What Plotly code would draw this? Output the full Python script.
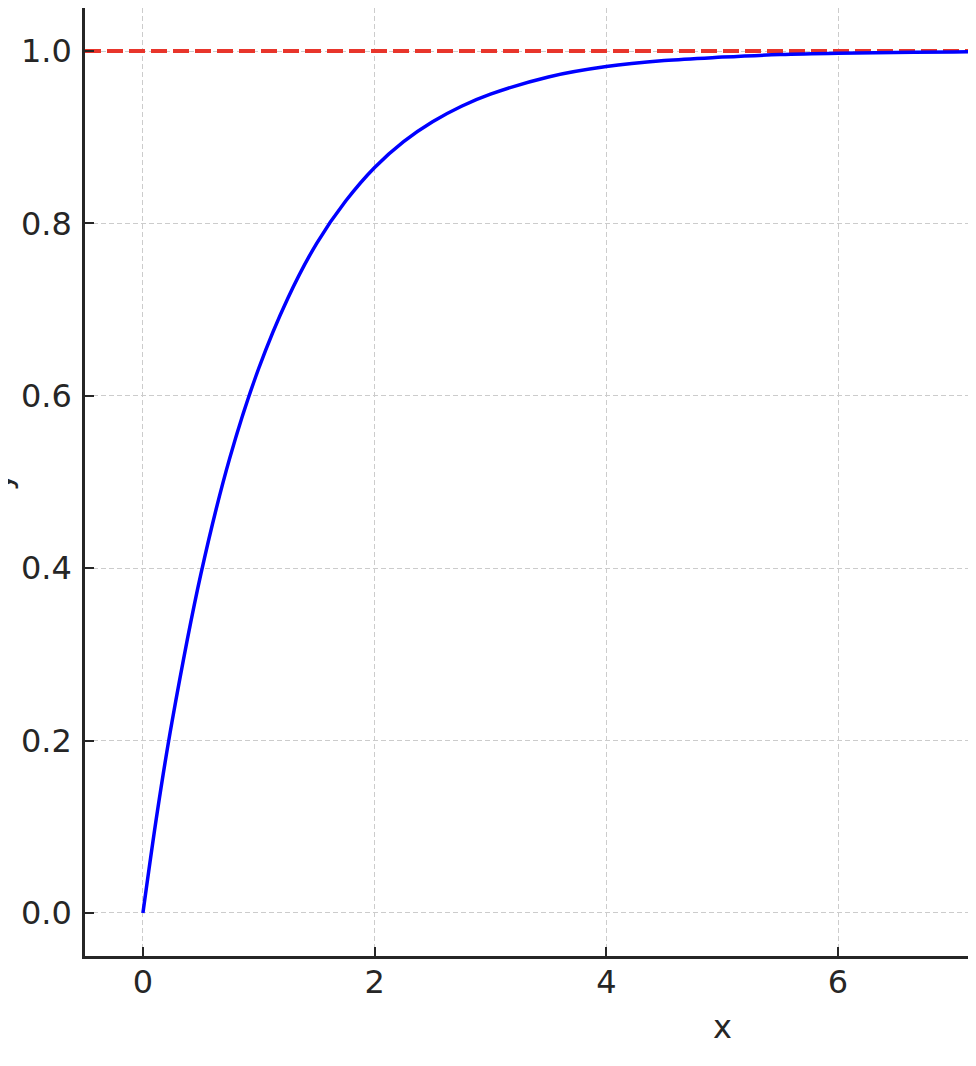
import plotly.graph_objects as go

# Values
x_vals = [0, 0.125, 0.25, 0.5, 0.75, 1.0, 1.25, 1.5, 1.75, 2.0, 2.25, 2.5, 2.75, 3.0,
          3.5, 4.0, 4.5, 5.0, 5.5, 6.0, 7.0, 8.0, 9.0, 10.0]
y_vals = [0.0, 0.118, 0.221, 0.393, 0.528, 0.632, 0.713, 0.777, 0.826, 0.865, 0.895,
          0.918, 0.936, 0.950, 0.970, 0.982, 0.989, 0.993, 0.996, 0.9975, 0.999,
          0.9997, 0.9999, 1.0]
asymptote_x = [-0.5, 10.5]
asymptote_y = [1.0, 1.0]

x_ticks = [0, 2, 4, 6, 8, 10]
y_ticks = [0.0, 0.2, 0.4, 0.6, 0.8, 1.0]
y_tick_text = ["0.0", "0.2", "0.4", "0.6", "0.8", "1.0"]

FONT = "DejaVu Sans"
DARK = "#262626"

fig = go.Figure()
fig.add_trace(go.Scatter(x=asymptote_x, y=asymptote_y, mode="lines",
                         line=dict(color="#e8352b", width=4, dash="16px,6px"),
                         showlegend=False))
fig.add_trace(go.Scatter(x=x_vals, y=y_vals, mode="lines", line_shape="spline",
                         line=dict(color="#0000ff", width=3.5), showlegend=False))

axis_common = dict(
    showline=True, linecolor=DARK, linewidth=2.5, mirror=False,
    ticks="inside", ticklen=9, tickwidth=2, tickcolor=DARK,
    showgrid=True, gridcolor="#cccccc", gridwidth=1.3, griddash="5px,3px",
    zeroline=False,
    tickfont=dict(family=FONT, size=32, color=DARK),
)

fig.update_xaxes(range=[-0.5, 7.26], tickvals=x_ticks, ticklabelstandoff=-4, **axis_common)
fig.update_yaxes(range=[-0.05, 1.05], tickvals=y_ticks, ticktext=y_tick_text,
                 ticklabelstandoff=4, **axis_common)

fig.add_annotation(text="x", xref="x", yref="paper", x=5, y=0, yshift=-50,
                   yanchor="top", showarrow=False,
                   font=dict(family=FONT, size=32, color=DARK))
fig.add_annotation(text="y", xref="paper", yref="paper", x=0, y=0.5, xshift=-85,
                   xanchor="center", yanchor="middle", textangle=-90, showarrow=False,
                   font=dict(family=FONT, size=32, color=DARK))

fig.update_layout(
    width=976, height=1050,
    margin=dict(l=77, r=0, t=0, b=102),
    plot_bgcolor="white", paper_bgcolor="white",
)

fig.write_html("out.html")
